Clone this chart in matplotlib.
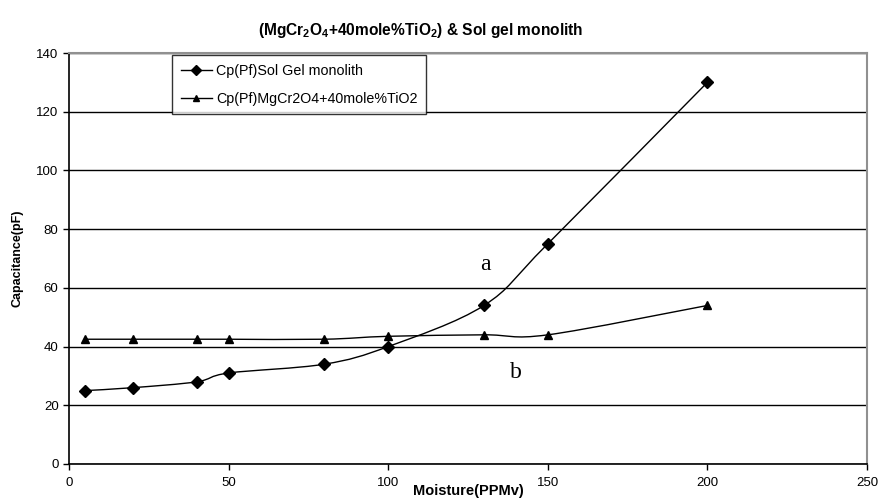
import matplotlib
matplotlib.use("Agg")
import matplotlib.pyplot as plt
from matplotlib.path import Path
from matplotlib.patches import PathPatch
from matplotlib.lines import Line2D
import numpy as np

plt.rcParams['font.family'] = ['Liberation Sans', 'DejaVu Sans']
plt.rcParams['mathtext.fontset'] = 'custom'
plt.rcParams['mathtext.rm'] = 'Liberation Sans:bold'
plt.rcParams['mathtext.it'] = 'Liberation Sans:bold'
plt.rcParams['mathtext.bf'] = 'Liberation Sans:bold'
plt.rcParams['mathtext.default'] = 'rm'

moisture = [5, 20, 40, 50, 80, 100, 130, 150, 200]
solgel = [25, 26, 28, 31, 34, 40, 54, 75, 130]
tio2 = [42.5, 42.5, 42.5, 42.5, 42.5, 43.5, 44, 44, 54]
xticks = [0, 50, 100, 150, 200, 250]
yticks = [0, 20, 40, 60, 80, 100, 120, 140]
title = "(MgCr$_2$O$_4$+40mole%TiO$_2$) & Sol gel monolith"
legend_labels = ["Cp(Pf)Sol Gel monolith", "Cp(Pf)MgCr2O4+40mole%TiO2"]


def smooth_path(xs, ys):
    pts = np.column_stack([xs, ys]).astype(float)
    n = len(pts)
    verts = [pts[0]]
    codes = [Path.MOVETO]
    for i in range(n - 1):
        p0 = pts[i - 1] if i > 0 else pts[i]
        p1 = pts[i]
        p2 = pts[i + 1]
        p3 = pts[i + 2] if i + 2 < n else pts[i + 1]
        c1 = p1 + (p2 - p0) / 6.0
        c2 = p2 - (p3 - p1) / 6.0
        verts += [c1, c2, p2]
        codes += [Path.CURVE4] * 3
    return Path(verts, codes)


fig = plt.figure(figsize=(8.8, 5.01), dpi=100)
ax = fig.add_axes([69 / 880, 1 - 464 / 501, (867 - 69) / 880, (464 - 53) / 501])

ax.set_xlim(0, 250)
ax.set_ylim(0, 140)
ax.set_xticks(xticks)
ax.set_yticks(yticks)
ax.tick_params(axis='both', labelsize=9.5, direction='out', length=4, width=1, color='black')
ax.tick_params(axis='x', pad=5)
ax.yaxis.grid(True, color='black', linewidth=1)
ax.set_axisbelow(True)

for s in ['left', 'bottom']:
    ax.spines[s].set_color('black')
    ax.spines[s].set_linewidth(1.2)
for s in ['top', 'right']:
    ax.spines[s].set_color('#909090')
    ax.spines[s].set_linewidth(1.5)

for ys in (solgel, tio2):
    ax.add_patch(PathPatch(smooth_path(moisture, ys), facecolor='none',
                           edgecolor='black', linewidth=1.0, zorder=3))

ax.plot(moisture, solgel, linestyle='none', marker='D', markersize=6,
        color='black', zorder=4)
ax.plot(moisture, tio2, linestyle='none', marker='^', markersize=6,
        color='black', zorder=4)

handles = [Line2D([], [], color='black', marker='D', markersize=5, linewidth=1),
           Line2D([], [], color='black', marker='^', markersize=5, linewidth=1)]
leg = ax.legend(handles, legend_labels, loc='upper left',
                bbox_to_anchor=((172 - 69) / 798, (464 - 55) / 411),
                fontsize=10.3, frameon=True, fancybox=False, edgecolor='black',
                handlelength=2.2, handletextpad=0.3, labelspacing=1.0,
                borderpad=0.6, borderaxespad=0)
leg.get_frame().set_linewidth(1.0)

ax.text(130.5, 68, "a", family=['Liberation Serif', 'DejaVu Serif'], fontsize=17,
        ha='center', va='center')
ax.text(140, 31, "b", family=['Liberation Serif', 'DejaVu Serif'], fontsize=17,
        ha='center', va='center')

ax.set_xlabel("Moisture(PPMv)", fontsize=10.5, fontweight='bold', labelpad=-3)
ax.set_ylabel("Capacitance(pF)", fontsize=9, fontweight='bold', labelpad=9)

fig.text(421 / 880, 1 - 30 / 501, title, ha='center', va='center',
         fontsize=11.2, fontweight='bold')

fig.savefig("out.png", dpi=100)
